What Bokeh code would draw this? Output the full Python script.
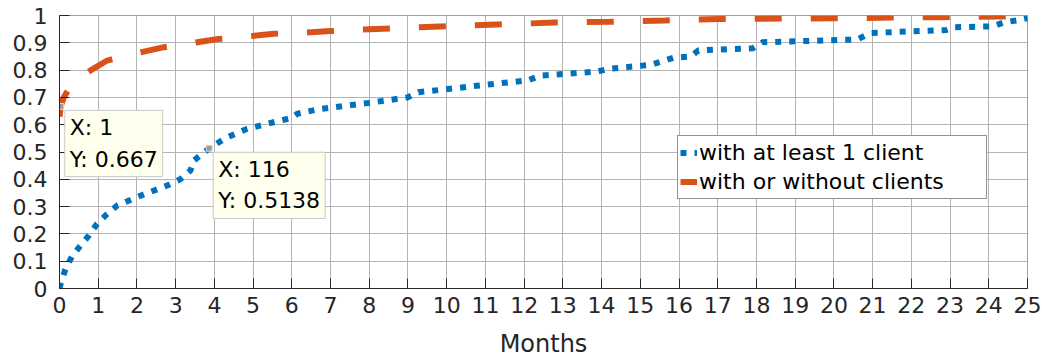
from bokeh.plotting import figure
from bokeh.models import Legend, LegendItem, Label, FixedTicker, Range1d
from bokeh.embed import file_html
from bokeh.resources import INLINE

# ---------------- data ----------------
# x in months, y = cumulative fraction
client_x = [0.0, 0.03, 0.15, 0.33, 0.54, 0.76, 0.97, 1.23, 1.49, 2.09, 2.78, 3.12,
            3.38, 3.47, 3.87, 4.33, 4.85, 5.53, 6.0, 6.14, 6.74, 7.43, 8.0, 8.99,
            9.27, 10.0, 11.05, 12.09, 12.42, 13.9, 14.2, 15.26, 15.86, 16.3, 16.5,
            17.9, 18.16, 20.6, 20.95, 22.9, 23.1, 24.1, 24.4, 24.8, 25.0]
client_y = [0.0, 0.017, 0.07, 0.12, 0.157, 0.194, 0.237, 0.273, 0.304, 0.34, 0.377, 0.40,
            0.432, 0.469, 0.514, 0.554, 0.585, 0.609, 0.625, 0.64, 0.658, 0.67, 0.68, 0.70,
            0.719, 0.73, 0.747, 0.762, 0.78, 0.795, 0.805, 0.819, 0.845, 0.85, 0.872,
            0.88, 0.902, 0.912, 0.936, 0.947, 0.957, 0.96, 0.975, 0.984, 0.99]

all_x = [0.0, 0.033, 0.11, 0.3, 0.72, 1.23, 2.0, 2.7, 3.43, 4.1, 4.85, 5.53, 6.27,
         7.0, 7.7, 9.84, 11.3, 12.77, 14.2, 15.65, 17.07, 19.96, 22.8, 24.25, 25.0]
all_y = [0.63, 0.667, 0.70, 0.745, 0.792, 0.835, 0.862, 0.884, 0.899, 0.914, 0.923,
         0.933, 0.937, 0.943, 0.948, 0.96, 0.967, 0.974, 0.977, 0.982, 0.987, 0.99,
         0.994, 0.996, 0.998]

series_names = ["with at least 1 client", "with or without clients"]

tip_x_days = [1, 116]
tip_y = [0.667, 0.5138]
tip_texts = ["X: 1\nY: 0.667", "X: 116\nY: 0.5138"]

x_ticks = list(range(0, 26))
y_ticks = [0.0, 0.1, 0.2, 0.3, 0.4, 0.5, 0.6, 0.7, 0.8, 0.9, 1.0]
y_tick_labels = ["0", "0.1", "0.2", "0.3", "0.4", "0.5", "0.6", "0.7", "0.8", "0.9", "1"]
x_label = "Months"

# ---------------- figure ----------------
FONT = "DejaVu Sans"
TXT = "#262626"

p = figure(width=1042, height=360, output_backend="svg", toolbar_location=None,
           x_range=Range1d(0, 25), y_range=Range1d(0, 1),
           min_border_left=59, min_border_right=15, min_border_top=15, min_border_bottom=72)
p.outline_line_color = "#a0a0a0"
p.outline_line_width = 1
p.background_fill_color = "white"

for ax in (p.xaxis[0], p.yaxis[0]):
    ax.major_label_text_font = FONT
    ax.major_label_text_font_size = "22px"
    ax.major_label_text_color = TXT
    ax.axis_line_color = TXT
    ax.major_tick_line_color = TXT
    ax.major_tick_in = 10
    ax.major_tick_out = 0
    ax.minor_tick_in = 0
    ax.minor_tick_out = 0

p.xaxis.ticker = FixedTicker(ticks=x_ticks)
p.yaxis.ticker = FixedTicker(ticks=y_ticks)
p.yaxis.major_label_overrides = {t: l for t, l in zip(y_ticks, y_tick_labels)}
p.xaxis.major_label_standoff = 8
p.yaxis.major_label_standoff = 12
p.xaxis.axis_label = x_label
p.xaxis.axis_label_text_font = FONT
p.xaxis.axis_label_text_font_size = "24px"
p.xaxis.axis_label_text_font_style = "normal"
p.xaxis.axis_label_text_color = TXT
p.xaxis.axis_label_standoff = 14

p.xgrid.ticker = FixedTicker(ticks=x_ticks)
p.ygrid.ticker = FixedTicker(ticks=y_ticks)
p.grid.grid_line_color = "#b4b4b4"
p.grid.grid_line_width = 1

r1 = p.line(client_x, client_y, line_color="#0072BD", line_width=6,
            line_dash="6 8", line_cap="butt", line_join="miter")
r2 = p.line(all_x, all_y, line_color="#D95319", line_width=6,
            line_dash="27 29", line_cap="butt")

# data tips
tip_xm = [d / 30.0 for d in tip_x_days]
p.scatter(tip_xm, tip_y, marker="square", size=6, fill_color="#9a9a9a",
          line_color="#e0e0e0", line_width=1)
for xm, yv, t in zip(tip_xm, tip_y, tip_texts):
    lab = Label(x=xm, y=yv, x_offset=4, y_offset=-4, text=t, anchor="top_left",
                text_font=FONT, text_font_size="22px", text_color="black",
                text_line_height=1.25, padding=5,
                background_fill_color="#FFFFEE", background_fill_alpha=1.0,
                border_line_color="#c8c8c8", border_line_width=1)
    p.add_layout(lab)

legend = Legend(items=[LegendItem(label=series_names[0], renderers=[r1]),
                       LegendItem(label=series_names[1], renderers=[r2])],
                location=(618, 89), orientation="vertical")
legend.label_text_font = FONT
legend.label_text_font_size = "22px"
legend.label_text_color = "black"
legend.glyph_width = 17
legend.glyph_height = 29
legend.label_height = 29
legend.label_width = 285
legend.label_standoff = 2
legend.padding = 2
legend.spacing = 0
legend.margin = 0
legend.border_line_color = TXT
legend.border_line_width = 1
legend.background_fill_color = "white"
legend.background_fill_alpha = 1.0
p.add_layout(legend)

open("out.html", "w").write(file_html(p, INLINE))
